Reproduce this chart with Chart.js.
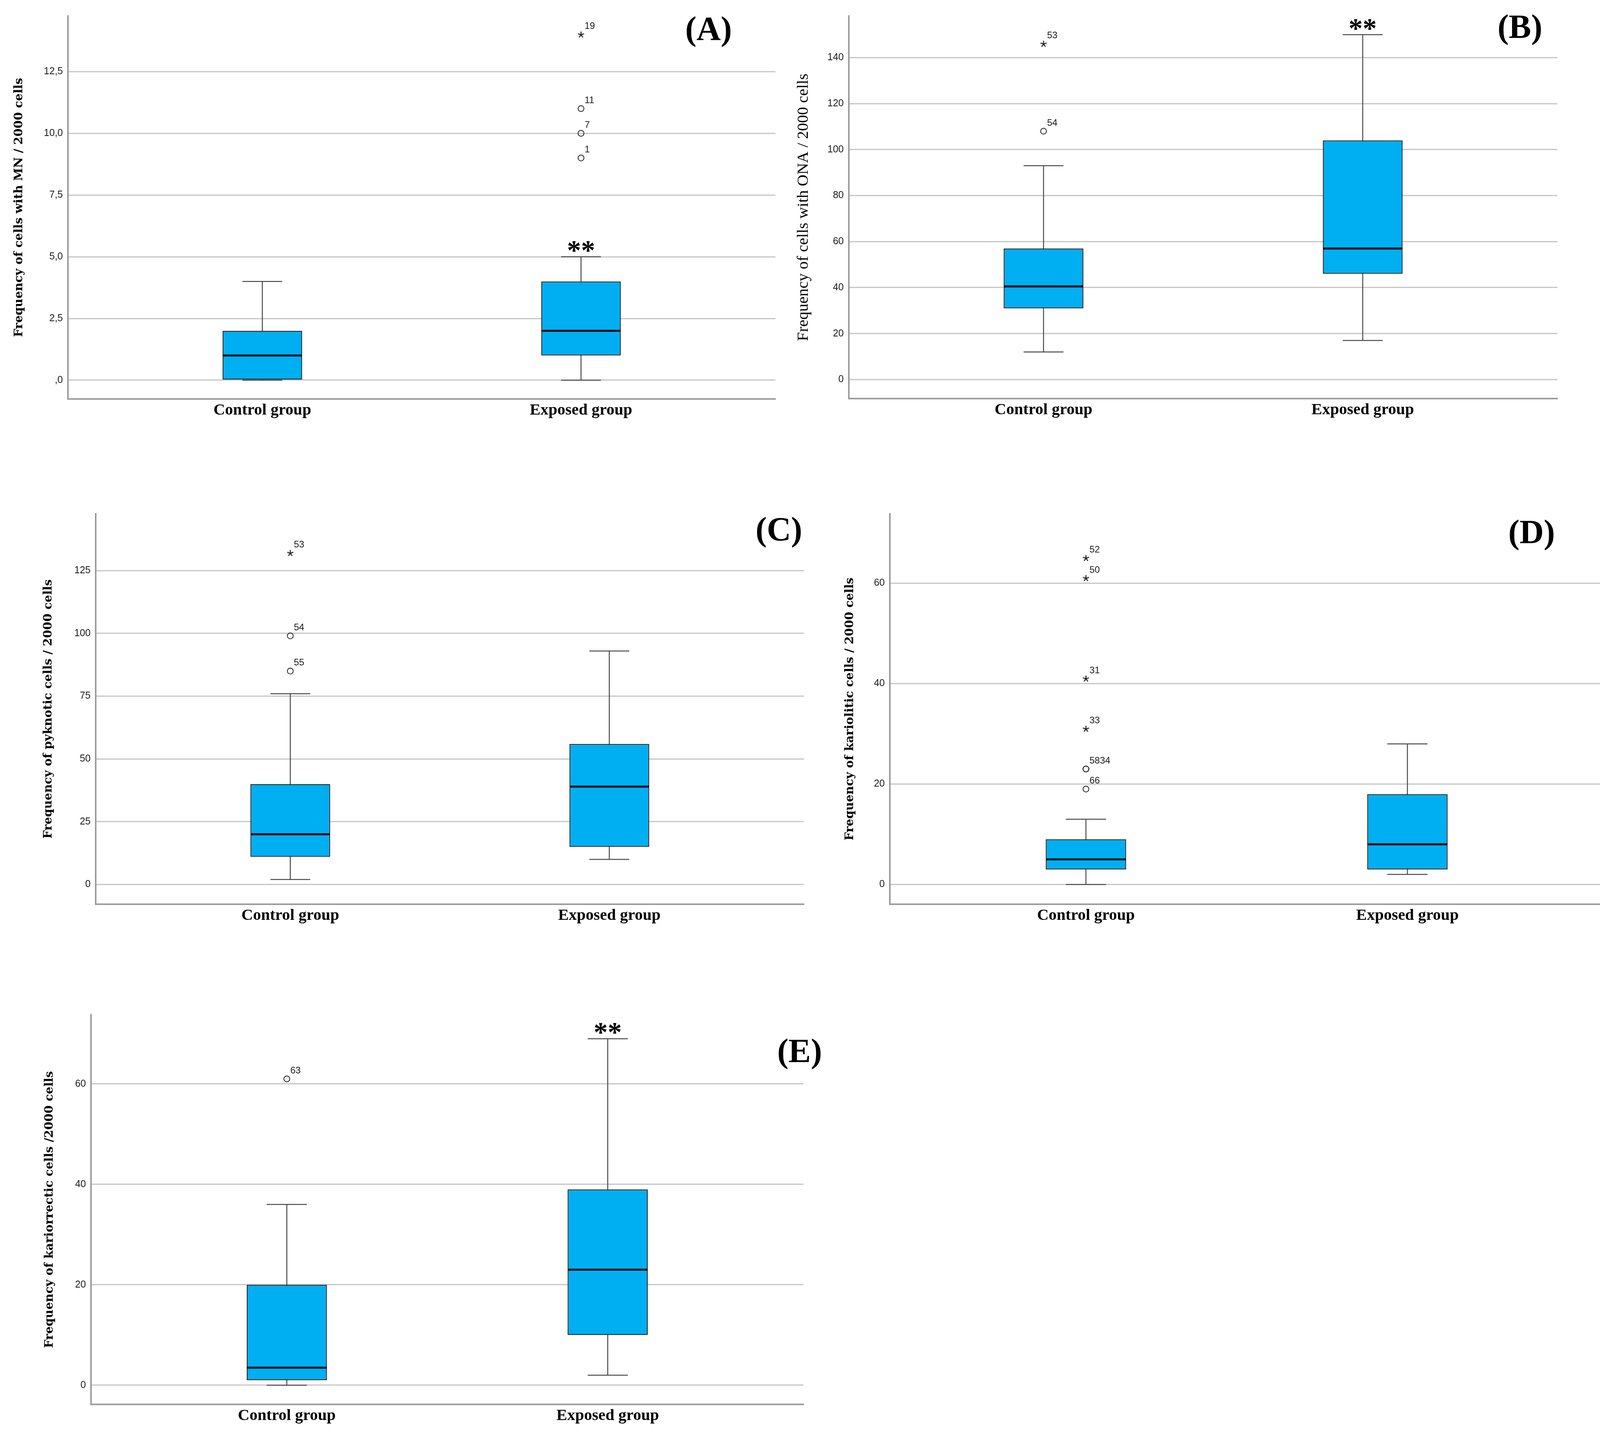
<!DOCTYPE html>
<html>
<head>
<meta charset="utf-8">
<script src="https://cdn.jsdelivr.net/npm/chart.js@4.4.1/dist/chart.umd.min.js"></script>
<style>
html,body{margin:0;padding:0;background:#ffffff;}
body{width:4142px;height:3680px;position:relative;overflow:hidden;}
</style>
</head>
<body>
<script>
// ---------------- DATA ----------------
const categories = ['Control group', 'Exposed group'];

// (A) cells with micronuclei (MN)
const mnTitle = 'Frequency of cells with MN / 2000 cells';
const mnLow = [0, 0];
const mnQ1 = [0, 1];
const mnMedian = [1, 2];
const mnQ3 = [2, 4];
const mnHigh = [4, 5];
const mnOutGroup = [2, 2, 2, 2];
const mnOutValue = [9, 10, 11, 14];
const mnOutCase = ['1', '7', '11', '19'];
const mnOutKind = ['o', 'o', 'o', '*'];
const mnSig = ['', '**'];
const mnTicks = [0, 2.5, 5, 7.5, 10, 12.5];
const mnTickLabels = [',0', '2,5', '5,0', '7,5', '10,0', '12,5'];
const mnRange = [-0.76, 14.75];

// (B) cells with other nuclear anomalies (ONA)
const onaTitle = 'Frequency of cells with ONA / 2000 cells';
const onaLow = [12, 17];
const onaQ1 = [31, 46];
const onaMedian = [40.5, 57];
const onaQ3 = [57, 104];
const onaHigh = [93, 150];
const onaOutGroup = [1, 1];
const onaOutValue = [108, 146];
const onaOutCase = ['54', '53'];
const onaOutKind = ['o', '*'];
const onaSig = ['', '**'];
const onaTicks = [0, 20, 40, 60, 80, 100, 120, 140];
const onaTickLabels = ['0', '20', '40', '60', '80', '100', '120', '140'];
const onaRange = [-8.26, 158.1];

// (C) pyknotic cells
const pykTitle = 'Frequency of pyknotic cells / 2000 cells';
const pykLow = [2, 10];
const pykQ1 = [11, 15];
const pykMedian = [20, 39];
const pykQ3 = [40, 56];
const pykHigh = [76, 93];
const pykOutGroup = [1, 1, 1];
const pykOutValue = [85, 99, 132];
const pykOutCase = ['55', '54', '53'];
const pykOutKind = ['o', 'o', '*'];
const pykSig = ['', ''];
const pykTicks = [0, 25, 50, 75, 100, 125];
const pykTickLabels = ['0', '25', '50', '75', '100', '125'];
const pykRange = [-7.85, 147.6];

// (D) kariolitic cells
const klTitle = 'Frequency of kariolitic cells / 2000 cells';
const klLow = [0, 2];
const klQ1 = [3, 3];
const klMedian = [5, 8];
const klQ3 = [9, 18];
const klHigh = [13, 28];
const klOutGroup = [1, 1, 1, 1, 1, 1, 1];
const klOutValue = [19, 23, 23, 31, 41, 61, 65];
const klOutCase = ['66', '58', '34', '33', '31', '50', '52'];
const klOutKind = ['o', 'o', 'o', '*', '*', '*', '*'];
const klSig = ['', ''];
const klTicks = [0, 20, 40, 60];
const klTickLabels = ['0', '20', '40', '60'];
const klRange = [-3.93, 73.8];

// (E) kariorrectic cells
const krTitle = 'Frequency of kariorrectic cells /2000 cells';
const krLow = [0, 2];
const krQ1 = [1, 10];
const krMedian = [3.5, 23];
const krQ3 = [20, 39];
const krHigh = [36, 69];
const krOutGroup = [1];
const krOutValue = [61];
const krOutCase = ['63'];
const krOutKind = ['o'];
const krSig = ['', '**'];
const krTicks = [0, 20, 40, 60];
const krTickLabels = ['0', '20', '40', '60'];
const krRange = [-3.82, 73.76];

// ---------------- STYLE / LAYOUT ----------------
const BOX_FILL = '#00AFF2';
const GRID = '#C6C6C6';
const AXIS = '#9C9C9C';
const WHISKER = '#4a4a4a';

function starImage() {
  const c = document.createElement('canvas');
  c.width = 22; c.height = 22;
  const g = c.getContext('2d');
  g.strokeStyle = '#1e1e1e'; g.lineWidth = 2.6; g.lineCap = 'round';
  const r = 7.2;
  for (let k = 0; k < 5; k++) {
    const a = Math.PI / 2 + k * 2 * Math.PI / 5;
    g.beginPath();
    g.moveTo(11, 11.5);
    g.lineTo(11 + r * Math.cos(a), 11.5 - r * Math.sin(a));
    g.stroke();
  }
  return c;
}
const STAR = starImage();

function makePlugin(L, d) {
  return {
    id: 'boxExtras' + L.key,
    beforeDatasetsDraw(chart) {
      const ctx = chart.ctx, xs = chart.scales.x, ys = chart.scales.y;
      const capHalf = Math.abs(xs.getPixelForValue(1.0625) - xs.getPixelForValue(1));
      ctx.save();
      ctx.strokeStyle = WHISKER; ctx.lineWidth = 2.5;
      d.low.forEach((lo, i) => {
        const x = xs.getPixelForValue(i + 1);
        const yl = ys.getPixelForValue(lo), yh = ys.getPixelForValue(d.high[i]);
        ctx.beginPath();
        ctx.moveTo(x, yl); ctx.lineTo(x, yh);
        ctx.moveTo(x - capHalf, yl); ctx.lineTo(x + capHalf, yl);
        ctx.moveTo(x - capHalf, yh); ctx.lineTo(x + capHalf, yh);
        ctx.stroke();
      });
      ctx.restore();
    },
    afterDatasetsDraw(chart) {
      const ctx = chart.ctx, xs = chart.scales.x, ys = chart.scales.y;
      const meta = chart.getDatasetMeta(0);
      ctx.save();
      // medians
      ctx.strokeStyle = '#000'; ctx.lineWidth = 5;
      d.median.forEach((m, i) => {
        const el = meta.data[i];
        const x = xs.getPixelForValue(i + 1), y = ys.getPixelForValue(m);
        ctx.beginPath(); ctx.moveTo(x - el.width / 2 + 1, y); ctx.lineTo(x + el.width / 2 - 1, y); ctx.stroke();
      });
      // significance marks
      ctx.fillStyle = '#000';
      ctx.font = 'bold 72px "Liberation Serif"';
      ctx.textAlign = 'center'; ctx.textBaseline = 'alphabetic';
      d.sig.forEach((s, i) => {
        if (!s) return;
        const x = xs.getPixelForValue(i + 1), y = ys.getPixelForValue(d.high[i]);
        ctx.fillText(s, x, y + 7);
      });
      // outlier case labels
      ctx.font = '24px "Liberation Sans"';
      ctx.fillStyle = '#1a1a1a';
      ctx.textAlign = 'left';
      const used = {};
      d.outGroup.forEach((g, i) => {
        const key = g + '_' + d.outValue[i];
        const shift = used[key] || 0;
        const x = xs.getPixelForValue(g) + 9 + shift, y = ys.getPixelForValue(d.outValue[i]);
        ctx.fillText(d.outCase[i], x, y - 14);
        used[key] = shift + ctx.measureText(d.outCase[i]).width;
      });
      // panel letter
      ctx.font = 'bold 86px "Liberation Serif"';
      ctx.textAlign = 'center';
      ctx.fillStyle = '#000';
      ctx.fillText(L.label, L.lx - L.left, L.ly - L.top + 22);
      ctx.restore();
    }
  };
}

function makeChart(L, d) {
  const wrap = document.createElement('div');
  wrap.style.cssText = 'position:absolute;left:' + L.left + 'px;top:' + L.top + 'px;width:' + L.w + 'px;height:' + L.h + 'px;';
  const cv = document.createElement('canvas');
  wrap.appendChild(cv);
  document.body.appendChild(wrap);
  const circles = [], stars = [];
  d.outGroup.forEach((g, i) => {
    const p = { x: g, y: d.outValue[i] };
    (d.outKind[i] === '*' ? stars : circles).push(p);
  });
  const tLine = 1.2;
  new Chart(cv, {
    type: 'bar',
    data: {
      datasets: [
        {
          type: 'bar',
          data: categories.map((c, i) => ({ x: i + 1, y: [d.q1[i], d.q3[i]] })),
          backgroundColor: BOX_FILL, borderColor: '#2a2a2a', borderWidth: 2.5, borderSkipped: false,
          barPercentage: 0.25, categoryPercentage: 1, order: 3
        },
        {
          type: 'scatter', data: circles, pointStyle: 'circle', pointRadius: 7.5,
          pointBorderWidth: 2, pointBorderColor: '#222', pointBackgroundColor: 'rgba(255,255,255,0)', order: 1
        },
        {
          type: 'scatter', data: stars, pointStyle: STAR, pointRadius: 8, order: 1
        }
      ]
    },
    options: {
      responsive: true, maintainAspectRatio: false, animation: false, devicePixelRatio: 1,
      events: [],
      layout: { padding: { left: 0, top: L.padT, right: L.padR, bottom: 0 } },
      plugins: { legend: { display: false }, tooltip: { enabled: false }, title: { display: false } },
      scales: {
        x: {
          type: 'linear', min: 0.39, max: 2.61, offset: false,
          grid: { display: true, color: 'rgba(0,0,0,0)', drawTicks: false, offset: false },
          border: { display: true, color: AXIS, width: 4 },
          afterBuildTicks: s => { s.ticks = categories.map((c, i) => ({ value: i + 1 })); },
          ticks: {
            callback: v => categories[Math.round(v) - 1],
            font: { family: 'Liberation Serif', weight: 'bold', size: 41 }, color: '#000',
            padding: 5, autoSkip: false, maxRotation: 0, minRotation: 0
          },
          afterFit: s => { s.height = L.xH; }
        },
        y: {
          type: 'linear', min: d.range[0], max: d.range[1],
          grid: { color: GRID, lineWidth: 3, drawTicks: false },
          border: { display: true, color: AXIS, width: 4 },
          afterBuildTicks: s => { s.ticks = d.ticks.map(v => ({ value: v })); },
          ticks: {
            callback: v => d.tickLabels[d.ticks.indexOf(v)],
            font: { family: 'Liberation Sans', size: 25 }, color: '#1a1a1a', padding: 13
          },
          title: {
            display: true, text: d.title,
            font: { family: L.tFamily, weight: L.tWeight, size: L.tSize, lineHeight: tLine }, color: '#000',
            padding: { top: L.titleCenter - L.left - L.tSize * tLine / 2, bottom: 0 }
          },
          afterFit: s => { s.width = L.yW; }
        }
      }
    },
    plugins: [makePlugin(L, d)]
  });
}

const panels = [
  [{ key: 'A', left: 0, top: 0, w: 2050, h: 1110, yW: 174, padR: 65, padT: 41, xH: 89,
     tFamily: 'DejaVu Serif', tWeight: 'bold', tSize: 30, titleCenter: 49, label: '(A)', lx: 1814, ly: 80 },
   { title: mnTitle, low: mnLow, q1: mnQ1, median: mnMedian, q3: mnQ3, high: mnHigh, outGroup: mnOutGroup, outValue: mnOutValue, outCase: mnOutCase, outKind: mnOutKind, sig: mnSig, ticks: mnTicks, tickLabels: mnTickLabels, range: mnRange }],
  [{ key: 'B', left: 2020, top: 0, w: 2100, h: 1110, yW: 153, padR: 133, padT: 41, xH: 90,
     tFamily: 'Liberation Serif', tWeight: 'normal', tSize: 41, titleCenter: 2057, label: '(B)', lx: 3891, ly: 75 },
   { title: onaTitle, low: onaLow, q1: onaQ1, median: onaMedian, q3: onaQ3, high: onaHigh, outGroup: onaOutGroup, outValue: onaOutValue, outCase: onaOutCase, outKind: onaOutKind, sig: onaSig, ticks: onaTicks, tickLabels: onaTickLabels, range: onaRange }],
  [{ key: 'C', left: 0, top: 1250, w: 2100, h: 1150, yW: 245, padR: 42, padT: 65, xH: 86,
     tFamily: 'DejaVu Serif', tWeight: 'bold', tSize: 30, titleCenter: 124, label: '(C)', lx: 1994, ly: 1361 },
   { title: pykTitle, low: pykLow, q1: pykQ1, median: pykMedian, q3: pykQ3, high: pykHigh, outGroup: pykOutGroup, outValue: pykOutValue, outCase: pykOutCase, outKind: pykOutKind, sig: pykSig, ticks: pykTicks, tickLabels: pykTickLabels, range: pykRange }],
  [{ key: 'D', left: 2100, top: 1250, w: 2042, h: 1150, yW: 178, padR: 37, padT: 65, xH: 86,
     tFamily: 'DejaVu Serif', tWeight: 'bold', tSize: 30, titleCenter: 2176, label: '(D)', lx: 3921, ly: 1368 },
   { title: klTitle, low: klLow, q1: klQ1, median: klMedian, q3: klQ3, high: klHigh, outGroup: klOutGroup, outValue: klOutValue, outCase: klOutCase, outKind: klOutKind, sig: klSig, ticks: klTicks, tickLabels: klTickLabels, range: klRange }],
  [{ key: 'E', left: 0, top: 2540, w: 2150, h: 1140, yW: 233, padR: 93, padT: 57, xH: 86,
     tFamily: 'DejaVu Serif', tWeight: 'bold', tSize: 30, titleCenter: 127, label: '(E)', lx: 2047, ly: 2696 },
   { title: krTitle, low: krLow, q1: krQ1, median: krMedian, q3: krQ3, high: krHigh, outGroup: krOutGroup, outValue: krOutValue, outCase: krOutCase, outKind: krOutKind, sig: krSig, ticks: krTicks, tickLabels: krTickLabels, range: krRange }]
];

panels.forEach(p => makeChart(p[0], p[1]));
</script>
</body>
</html>
